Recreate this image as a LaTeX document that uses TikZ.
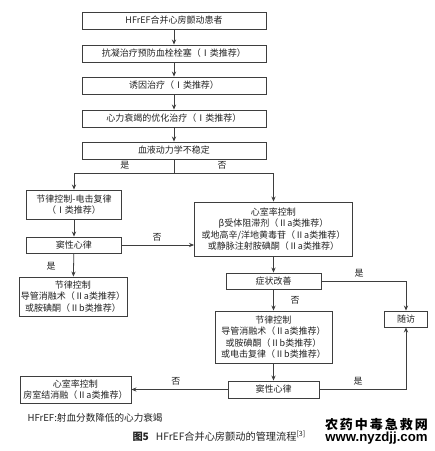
\documentclass[tikz,border=0pt]{standalone}
\usepackage{fontspec}
\setmainfont{Noto Sans CJK SC}
\newfontfamily\webfont{Liberation Sans}
\usetikzlibrary{calc, arrows.meta}

\definecolor{linegray}{RGB}{62,62,62}
\definecolor{textgray}{RGB}{35,35,35}

\begin{document}
\begin{tikzpicture}[x=1pt, y=-1pt, >={Stealth[length=5pt, width=4.2pt]},
  box/.style={draw=linegray, line width=0.9pt, fill=white, inner sep=0pt,
    align=center, text=textgray, font=\fontsize{9}{11.5}\selectfont},
  link/.style={->, draw=linegray, line width=0.8pt},
  choice/.style={text=textgray, font=\fontsize{9}{10}\selectfont}]

\useasboundingbox[fill=white] (0,0) rectangle (435,451);

% Main trunk (pixel coordinates, y downwards)
\node[box, minimum width=184, minimum height=17] (start) at (174,20.5) {HFrEF合并心房颤动患者};
\node[box, minimum width=184, minimum height=17] (anticoag) at (174,53.5) {抗凝治疗预防血栓栓塞（Ⅰ类推荐）};
\node[box, minimum width=184, minimum height=17] (cause) at (174,85.5) {诱因治疗（Ⅰ类推荐）};
\node[box, minimum width=184, minimum height=17] (optimal) at (174,118.5) {心力衰竭的优化治疗（Ⅰ类推荐）};
\node[box, minimum width=184, minimum height=17] (unstable) at (174,150.5) {血液动力学不稳定};

\draw[link] (start) -- (anticoag);
\draw[link] (anticoag) -- (cause);
\draw[link] (cause) -- (optimal);
\draw[link] (optimal) -- (unstable);

% Split point under the unstable box
\coordinate (split) at (174,173);

% Left branch: unstable
\node[box, minimum width=95, minimum height=29] (shock) at (74,204.5) {节律控制-电击复律\\（Ⅰ类推荐）};
\node[box, minimum width=95, minimum height=16] (sinusA) at (74,245) {窦性心律};
\node[box, minimum width=108, minimum height=39] (ablateA) at (73,296.5) {节律控制\\导管消融术（Ⅱa类推荐）\\或胺碘酮（Ⅱb类推荐）};

% Right branch: stable
\node[box, minimum width=158, minimum height=54] (rateA) at (273.5,229) {心室率控制\\β受体阻滞剂（Ⅱa类推荐）\\或地高辛/洋地黄毒苷（Ⅱa类推荐）\\或静脉注射胺碘酮（Ⅱa类推荐）};
\node[box, minimum width=95, minimum height=16] (symptom) at (273.5,281) {症状改善};
\node[box, minimum width=117, minimum height=52] (rhythmB) at (273.5,337) {节律控制\\导管消融术（Ⅱa类推荐）\\或胺碘酮（Ⅱb类推荐）\\或电击复律（Ⅱb类推荐）};
\node[box, minimum width=43, minimum height=16] (visit) at (406,319) {随访};
\node[box, minimum width=91, minimum height=17] (sinusB) at (273.5,389.5) {窦性心律};
\node[box, minimum width=111, minimum height=27] (rateB) at (75.5,389.5) {心室率控制\\房室结消融（Ⅱa类推荐）};

% Connectors
\draw[draw=linegray, line width=0.8pt] (unstable.south) -- (split);
\draw[link] (split) -| (shock.north);
\draw[link] (split) -| (rateA.north);
\draw[link] (shock) -- (sinusA);
\draw[link] (sinusA) -- (ablateA);
\draw[link] (sinusA.east) -- (sinusA.east -| rateA.west);
\draw[link] (rateA) -- (symptom);
\draw[link] (symptom) -- (rhythmB);
\draw[link] (symptom.east) -| (visit.north);
\draw[link] (rhythmB) -- (sinusB);
\draw[link] (sinusB.west) -- (rateB.east);
\draw[link] (sinusB.east) -| (visit.south);

% Yes / no labels
\node[choice] (yesA) at (125,165) {是};
\node[choice] (noA) at (222,165) {否};
\node[choice] (noB) at (157,237) {否};
\node[choice] (yesB) at (51,266) {是};
\node[choice] (yesC) at (359,273) {是};
\node[choice] (noC) at (295,300) {否};
\node[choice] (noD) at (176,381) {否};
\node[choice] (yesD) at (358,381) {是};

% Captions
\node[choice, anchor=west, font=\fontsize{9.6}{10}\selectfont] (abbr) at (24,418) {HFrEF:射血分数降低的心力衰竭};
\node[choice, anchor=west, font=\fontsize{10.2}{10}\selectfont] (title) at (129,436)
  {\textbf{图5}\hspace{7pt}HFrEF合并心房颤动的管理流程\textsuperscript{[3]}};

% Site mark
\node[inner sep=0pt, font=\fontsize{13}{13}\bfseries] (mark) at (376.5,425)
  {\makebox[103pt]{农\hfill 药\hfill 中\hfill 毒\hfill 急\hfill 救\hfill 网}};
\node[inner sep=0pt, font=\webfont\fontsize{13.2}{13}\bfseries] (site) at (376.5,438.5) {www.nyzdjj.com};

\end{tikzpicture}
\end{document}
